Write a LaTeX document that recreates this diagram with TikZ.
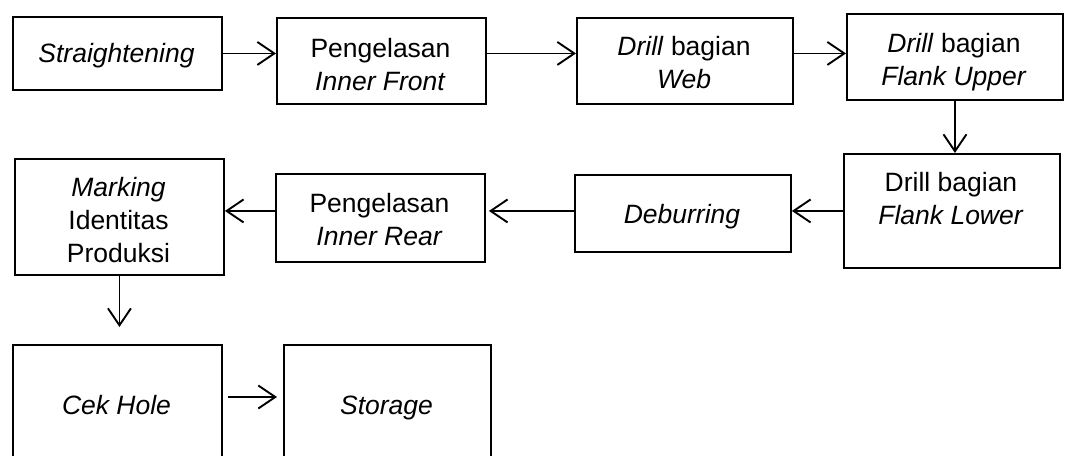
\documentclass[tikz,border=0pt]{standalone}
\usepackage{fontspec}
\setmainfont{Liberation Sans}
\usetikzlibrary{arrows.meta}
\tikzset{
  stepbox/.style={draw=black, line width=1.9pt, inner sep=0pt, anchor=north west},
  txt/.style={inner sep=0pt, anchor=base, align=center, font=\fontsize{26.5}{33}\selectfont},
  arr/.style={draw=black, line width=1.9pt, -{Straight Barb[length=17pt,width=23pt,line width=1.9pt]}}
}
\begin{document}
\begin{tikzpicture}[x=1pt,y=-1pt]
\useasboundingbox (0,0) rectangle (1083,455);
\clip (0,0) rectangle (1083,455);
% boxes
\node[stepbox, minimum width=209pt, minimum height=73pt] (s) at (12,16) {};
\node[stepbox, minimum width=209pt, minimum height=86pt] (f) at (276,17) {};
\node[stepbox, minimum width=216pt, minimum height=86pt] (w) at (576,17) {};
\node[stepbox, minimum width=216pt, minimum height=86pt] (fu) at (846,13) {};
\node[stepbox, minimum width=216pt, minimum height=114pt] (fl) at (843,153) {};
\node[stepbox, minimum width=216pt, minimum height=77pt] (d) at (574,174) {};
\node[stepbox, minimum width=209pt, minimum height=88pt] (r) at (275,173) {};
\node[stepbox, minimum width=209pt, minimum height=116pt] (m) at (14,158) {};
\node[stepbox, minimum width=209pt, minimum height=130pt] (c) at (12,344) {};
\node[stepbox, minimum width=207pt, minimum height=130pt] (o) at (283,344) {};
% texts (anchor=base is the baseline of the last line)
\node[txt] (st) at (116.5,62) {\textit{Straightening}};
\node[txt] (ft) at (380.5,90) {Pengelasan\\\textit{Inner Front}};
\node[txt] (wt) at (684,88) {\textit{Drill} bagian\\\textit{Web}};
\node[txt] (fut) at (954,85) {\textit{Drill} bagian\\\textit{Flank Upper}};
\node[txt] (flt) at (951,224) {Drill bagian\\\textit{Flank Lower}};
\node[txt] (dt) at (682,223) {\textit{Deburring}};
\node[txt] (rt) at (379.5,245) {Pengelasan\\\textit{Inner Rear}};
\begin{scope}
\clip (14,158) rectangle (223,263);
\node[txt] (mt) at (118.5,262) {\textit{Marking}\\Identitas\\Produksi};
\end{scope}
\node[txt] (ct) at (116.5,414) {\textit{Cek Hole}};
\node[txt] (ot) at (386.5,414) {\textit{Storage}};
% connectors
\coordinate (a9y) at (0,397);
\draw[arr] (s.east) -- (s.east -| f.west);
\draw[arr] (f.east |- s.east) -- (w.west |- s.east);
\draw[arr] (w.east |- s.east) -- (fu.west |- s.east);
\draw[arr] (fu.south) -- (fu.south |- fl.north);
\draw[arr] (fl.west) -- (fl.west -| d.east);
\draw[arr, shorten >=3pt] (d.west |- fl.west) -- (r.east |- fl.west);
\draw[arr] (r.west |- fl.west) -- (m.east |- fl.west);
\draw[arr, shorten >=17pt] (m.south) -- (m.south |- c.north);
\draw[arr, shorten <=5pt, shorten >=6pt] (c.east |- a9y) -- (o.west |- a9y);
\end{tikzpicture}
\end{document}
